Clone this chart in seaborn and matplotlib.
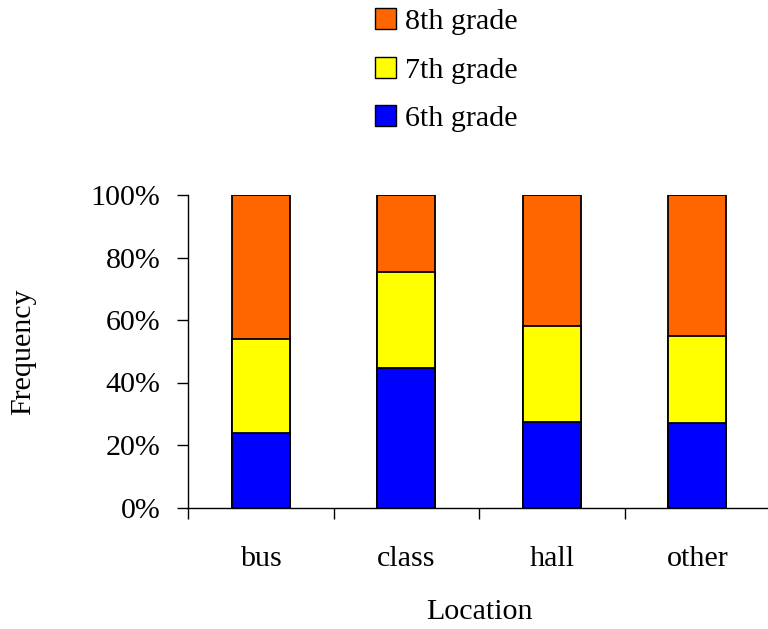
import matplotlib
matplotlib.use("Agg")
import matplotlib.pyplot as plt
from matplotlib.patches import Patch
from matplotlib.ticker import FixedLocator, PercentFormatter
import numpy as np
import pandas as pd
import seaborn as sns

locations = ["bus", "class", "hall", "other"]
grade6 = [24.0, 44.5, 27.4, 27.0]
grade7 = [30.0, 31.0, 30.6, 28.0]
grade8 = [46.0, 24.5, 42.0, 45.0]
grade_names = ["6th grade", "7th grade", "8th grade"]
grade_colors = ["#0000FF", "#FFFF00", "#FF6600"]
y_ticks = [0, 20, 40, 60, 80, 100]

FS = 21.6

sns.set_theme(style="white")
plt.rcParams["font.family"] = ["Liberation Serif", "DejaVu Serif"]
plt.rcParams["text.color"] = "black"

df = pd.DataFrame({"Location": locations, "g6": grade6, "g7": grade7, "g8": grade8})
df["top6"] = df["g6"]
df["top7"] = df["g6"] + df["g7"]
df["top8"] = df["g6"] + df["g7"] + df["g8"]

fig = plt.figure(figsize=(7.68, 6.29), dpi=100)
ax = fig.add_axes([188 / 768, 121.5 / 629, 582 / 768, 312.5 / 629])

# stacked bars: draw cumulative totals from the top layer down
for col, color in zip(["top8", "top7", "top6"], grade_colors[::-1]):
    sns.barplot(data=df, x="Location", y=col, color=color, width=0.4,
                edgecolor="black", linewidth=1.3, saturation=1, ax=ax)

ax.set_ylim(0, 100)
ax.set_xlim(-0.5, 3.5)
ax.yaxis.set_major_locator(FixedLocator(y_ticks))
ax.yaxis.set_major_formatter(PercentFormatter(decimals=0))
ax.xaxis.set_minor_locator(FixedLocator(np.arange(-0.5, 4.0, 1.0)))

for side in ["top", "right"]:
    ax.spines[side].set_visible(False)
for side in ["left", "bottom"]:
    ax.spines[side].set_color("black")
    ax.spines[side].set_linewidth(1.0)

ax.tick_params(axis="y", which="major", direction="out", length=8, width=1,
               color="black", left=True, labelsize=FS, pad=12, labelcolor="black")
ax.tick_params(axis="x", which="major", length=0, labelsize=FS, pad=28,
               labelcolor="black")
ax.tick_params(axis="x", which="minor", direction="out", length=8, width=1,
               color="black", bottom=True)

ax.set_xlabel("Location", fontsize=FS, labelpad=19, color="black")
ax.set_ylabel("Frequency", fontsize=FS, labelpad=39, color="black")

handles = [Patch(facecolor=c, edgecolor="black", linewidth=1.0, label=n)
           for n, c in zip(grade_names[::-1], grade_colors[::-1])]
fig.legend(handles=handles, loc="upper left", bbox_to_anchor=(375 / 768, 1.0 - 8 / 629),
           frameon=False, fontsize=FS, handlelength=0.7, handleheight=0.7,
           handletextpad=0.3, labelspacing=0.72, borderpad=0, borderaxespad=0,
           labelcolor="black")

fig.savefig("out.png", dpi=100, facecolor="white")
